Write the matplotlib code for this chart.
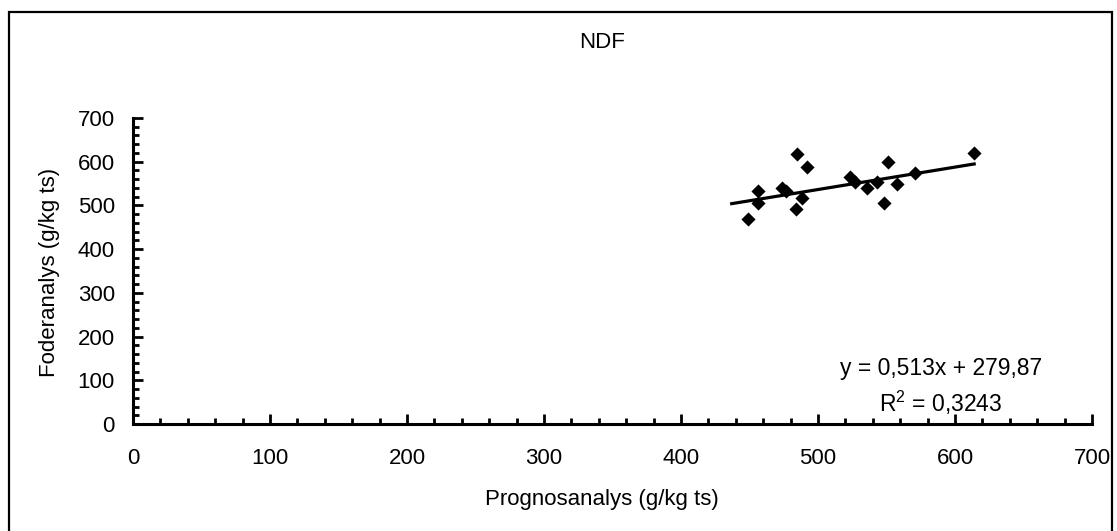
import matplotlib
matplotlib.use("Agg")
import matplotlib.pyplot as plt
from matplotlib.ticker import MultipleLocator
from matplotlib.patches import Rectangle

# Data
prognos = [485, 492, 456, 474, 477, 456, 488, 484, 449, 523, 527, 536, 543, 548, 551, 558, 571, 614]
foder = [618, 587, 534, 541, 533, 506, 517, 491, 469, 564, 553, 539, 554, 505, 599, 549, 574, 621]
slope = 0.513
intercept = 279.87
trend_x = [437, 614]
title = "NDF"
xlabel = "Prognosanalys (g/kg ts)"
ylabel = "Foderanalys (g/kg ts)"
eq_text = "y = 0,513x + 279,87"
r2_text = "R$^2$ = 0,3243"

plt.rcParams['font.family'] = ['Liberation Sans', 'DejaVu Sans']
plt.rcParams['mathtext.fontset'] = 'custom'
plt.rcParams['mathtext.rm'] = 'Liberation Sans'
W, H = 1117, 531
fig = plt.figure(figsize=(W / 100, H / 100), dpi=100)
fig.patch.set_facecolor('white')

# outer chart frame
fig.add_artist(Rectangle((9 / W, 1 - 535 / H), (1112 - 9) / W, (535 - 12) / H,
                         transform=fig.transFigure, fill=False, edgecolor='black', lw=1.6))

ax = fig.add_axes([133 / W, 1 - 424 / H, (1092 - 133) / W, (424 - 118) / H])
ax.set_xlim(0, 700)
ax.set_ylim(0, 700)
for s in ['top', 'right']:
    ax.spines[s].set_visible(False)
for s in ['left', 'bottom']:
    ax.spines[s].set_linewidth(2.2)

ax.xaxis.set_major_locator(MultipleLocator(100))
ax.xaxis.set_minor_locator(MultipleLocator(20))
ax.yaxis.set_major_locator(MultipleLocator(100))
ax.yaxis.set_minor_locator(MultipleLocator(20))
ax.tick_params(which='major', direction='in', length=7, width=2, labelsize=16)
ax.tick_params(which='minor', direction='in', length=4.5, width=2)
ax.tick_params(axis='x', which='major', pad=17)
ax.tick_params(axis='y', which='major', pad=13)

ax.scatter(prognos, foder, marker='D', s=52, color='black', zorder=3, linewidths=0)
tx = trend_x
ty = [slope * v + intercept for v in tx]
ax.plot(tx, ty, color='black', lw=2.3, zorder=2)

fig.text(602 / W, 1 - 43 / H, title, ha='center', va='center', fontsize=16)
fig.text(602 / W, 1 - 500 / H, xlabel, ha='center', va='center', fontsize=16)
fig.text(50 / W, 1 - 272 / H, ylabel, ha='center', va='center', rotation=90, fontsize=16)
fig.text(941 / W, 1 - 368 / H, eq_text, ha='center', va='center', fontsize=16.5)
fig.text(941 / W, 1 - 403 / H, r2_text, ha='center', va='center', fontsize=16.5)

fig.savefig("out.png", dpi=100)
